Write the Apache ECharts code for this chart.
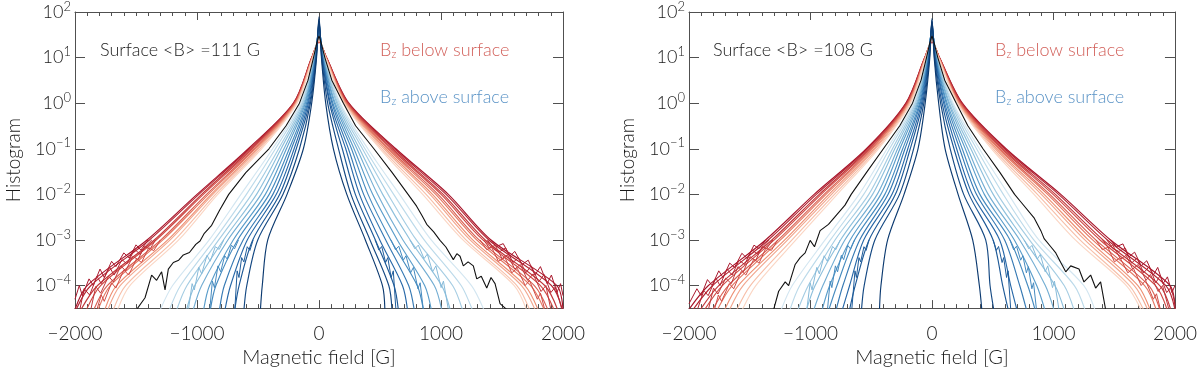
<!DOCTYPE html>
<html>
<head>
<meta charset="utf-8">
<title>Bz histograms</title>
<script src="https://cdn.jsdelivr.net/npm/echarts@6/dist/echarts.min.js"></script>
<style>
  html, body { margin: 0; padding: 0; background: #fff; }
  #chart { width: 1200px; height: 373px; }
</style>
</head>
<body>
<div id="chart"></div>
<script>
// histogram levels at which every curve's |B| crossing was read off the figure
// (the last one is where the curve leaves through the bottom of the frame)
var LEVELS = [10, 1, 0.1, 0.01, 1e-3, 1e-4, 3e-5];
var Y_MIN = 3.2e-5, Y_MAX = 100;

// ---------- left panel, surface <B> = 111 G ----------
// red = below surface (dark = deepest), |B| at LEVELS on the negative / positive side
var A_RED_PEAK = [22, 22, 22, 23, 23, 23, 24, 24, 24, 25];
var A_RED_NEG = [
  [60, 210, 580, 1000, 1410, 1900, 2000],
  [59, 207, 570, 985, 1390, 1870, 1990],
  [58, 204, 558, 962, 1350, 1815, 1950],
  [57, 200, 546, 948, 1335, 1790, 1905],
  [56, 197, 532, 922, 1296, 1735, 1845],
  [55, 193, 523, 906, 1280, 1710, 1810],
  [54, 190, 509, 884, 1240, 1660, 1755],
  [53, 187, 498, 870, 1220, 1630, 1730],
  [51, 183, 483, 848, 1182, 1585, 1685],
  [50, 180, 470, 830, 1150, 1550, 1650]
];
var A_RED_POS = [
  [62, 245, 630, 1060, 1410, 1950, 2000],
  [61, 241, 618, 1042, 1392, 1905, 1995],
  [60, 236, 603, 1018, 1362, 1850, 1955],
  [59, 232, 591, 1001, 1343, 1815, 1925],
  [58, 227, 575, 976, 1312, 1765, 1875],
  [57, 222, 563, 957, 1292, 1735, 1845],
  [56, 218, 546, 930, 1260, 1688, 1795],
  [55, 214, 532, 910, 1238, 1660, 1770],
  [53, 209, 514, 878, 1205, 1622, 1725],
  [52, 205, 500, 850, 1180, 1600, 1700]
];
// blue = above surface (light = just above, dark = highest)
var A_BLUE_PEAK = [30, 32, 34, 36, 39, 42, 46, 50, 55, 61, 68, 78];
var A_BLUE_NEG = [
  [42, 150, 380, 640, 900, 1200, 1300],
  [40, 141, 357, 595, 858, 1135, 1225],
  [38, 134, 331, 552, 822, 1082, 1165],
  [36, 125, 311, 512, 783, 1018, 1085],
  [34, 118, 287, 475, 747, 962, 1030],
  [32, 111, 267, 440, 703, 897, 945],
  [30, 102, 244, 408, 667, 845, 890],
  [28, 94, 226, 378, 622, 776, 815],
  [26, 87, 204, 350, 588, 725, 770],
  [24, 78, 186, 322, 543, 655, 690],
  [22, 70, 160, 295, 502, 592, 615],
  [20, 60, 128, 262, 420, 465, 480]
];
var A_BLUE_POS = [
  [44, 175, 400, 660, 920, 1250, 1350],
  [42, 166, 377, 612, 862, 1165, 1255],
  [40, 155, 356, 566, 798, 1095, 1175],
  [38, 146, 332, 522, 747, 1005, 1075],
  [36, 134, 311, 480, 688, 945, 1005],
  [34, 126, 287, 440, 642, 866, 920],
  [31, 114, 266, 402, 588, 805, 855],
  [29, 106, 241, 366, 547, 735, 780],
  [27, 94, 219, 332, 498, 684, 725],
  [25, 86, 191, 298, 462, 615, 650],
  [22, 71, 160, 262, 418, 572, 598],
  [20, 55, 118, 228, 380, 520, 540]
];
// noisy low-count tails of a few more layers, [B, H]
var A_RED_TAILS = [
  [[-1400, 1e-3], [-1460, 6e-4], [-1500, 7.8e-4], [-1555, 4e-4], [-1600, 5.2e-4], [-1665, 2.6e-4], [-1700, 3.4e-4], [-1760, 1.5e-4], [-1795, 2.3e-4], [-1850, 1e-4], [-1885, 1.4e-4], [-1940, 6e-5], [-1965, 1e-4], [-2000, 5e-5]],
  [[-1370, 1e-3], [-1425, 7.2e-4], [-1465, 4.8e-4], [-1510, 6.2e-4], [-1575, 3e-4], [-1615, 3.7e-4], [-1680, 1.7e-4], [-1715, 2.5e-4], [-1785, 1.1e-4], [-1820, 1.6e-4], [-1880, 6.2e-5], [-1925, 8.5e-5], [-1960, 3e-5]],
  [[-1340, 1e-3], [-1385, 6.3e-4], [-1430, 7.2e-4], [-1485, 3.7e-4], [-1525, 4.4e-4], [-1585, 2.1e-4], [-1625, 2.7e-4], [-1685, 1.2e-4], [-1725, 1.6e-4], [-1790, 6.8e-5], [-1830, 9.5e-5], [-1870, 3e-5]],
  [[-1300, 1e-3], [-1355, 5.8e-4], [-1395, 6.8e-4], [-1455, 3.2e-4], [-1495, 3.9e-4], [-1560, 1.7e-4], [-1600, 2.2e-4], [-1665, 8.8e-5], [-1700, 1.15e-4], [-1760, 4.5e-5], [-1785, 6.2e-5], [-1820, 3e-5]],
  [[1410, 1e-3], [1455, 7.2e-4], [1510, 8.3e-4], [1565, 4.4e-4], [1605, 5.6e-4], [1665, 2.9e-4], [1715, 3.6e-4], [1770, 1.7e-4], [1815, 2.6e-4], [1870, 1.1e-4], [1905, 1.7e-4], [1950, 7e-5], [1980, 1.1e-4], [2000, 6e-5]],
  [[1380, 1e-3], [1435, 6.4e-4], [1475, 5.4e-4], [1530, 6.7e-4], [1590, 3.2e-4], [1635, 4.1e-4], [1695, 1.9e-4], [1740, 2.7e-4], [1800, 1.2e-4], [1845, 1.75e-4], [1900, 7e-5], [1940, 9.5e-5], [1990, 3e-5]],
  [[1350, 1e-3], [1395, 6.7e-4], [1445, 7.6e-4], [1500, 3.9e-4], [1545, 4.7e-4], [1605, 2.3e-4], [1650, 2.9e-4], [1710, 1.3e-4], [1755, 1.8e-4], [1820, 7.4e-5], [1860, 1e-4], [1900, 3e-5]],
  [[1320, 1e-3], [1375, 6.1e-4], [1415, 6.9e-4], [1470, 3.4e-4], [1525, 4.1e-4], [1580, 1.9e-4], [1625, 2.4e-4], [1690, 1e-4], [1725, 1.3e-4], [1790, 5e-5], [1815, 6.8e-5], [1850, 3e-5]]
];
var A_BLUE_TAILS = [
  [[-780, 1e-3], [-818, 6.2e-4], [-850, 7.1e-4], [-892, 3.4e-4], [-918, 4.6e-4], [-962, 1.8e-4], [-985, 2.5e-4], [-1022, 8e-5], [-1040, 1.1e-4], [-1070, 3e-5]],
  [[-660, 1e-3], [-692, 6.4e-4], [-718, 7.7e-4], [-752, 3.8e-4], [-773, 4.5e-4], [-806, 2e-4], [-828, 2.7e-4], [-857, 9e-5], [-874, 1.25e-4], [-895, 3e-5]],
  [[-540, 1e-3], [-566, 5.9e-4], [-588, 7.1e-4], [-616, 3.3e-4], [-634, 4.1e-4], [-656, 1.5e-4], [-671, 2.1e-4], [-690, 3e-5]],
  [[745, 1e-3], [786, 6.4e-4], [814, 7.7e-4], [861, 3.9e-4], [888, 4.9e-4], [931, 2e-4], [958, 2.7e-4], [1001, 9e-5], [1020, 1.25e-4], [1060, 3e-5]],
  [[590, 1e-3], [627, 6.1e-4], [654, 7.3e-4], [691, 3.6e-4], [713, 4.5e-4], [751, 1.9e-4], [774, 2.5e-4], [811, 8.5e-5], [829, 1.15e-4], [855, 3e-5]],
  [[460, 1e-3], [491, 6e-4], [514, 7.2e-4], [546, 3.2e-4], [564, 4.1e-4], [591, 1.5e-4], [609, 2.1e-4], [630, 3e-5]]
];
// surface histogram, [B, H]
var A_BLACK = [
  [-1494, 3e-5], [-1426, 5.4e-5], [-1372, 1.7e-4], [-1331, 1.3e-4], [-1290, 2.0e-4],
  [-1262, 8e-5], [-1235, 2.3e-4], [-1194, 3.2e-4], [-1150, 3.6e-4], [-1112, 4.7e-4],
  [-1062, 5.3e-4], [-1010, 8e-4], [-975, 9.5e-4], [-940, 1.4e-3], [-880, 2.1e-3],
  [-815, 4.5e-3], [-740, 0.01], [-600, 0.03], [-410, 0.1], [-270, 0.32], [-160, 1],
  [-90, 3.2], [-45, 10], [-20, 20], [0, 30],
  [20, 20], [48, 10], [105, 3.2], [200, 1], [300, 0.32], [450, 0.1], [600, 0.03], [730, 0.01],
  [800, 5.5e-3], [845, 3.4e-3], [883, 2.2e-3], [940, 1.5e-3], [992, 9.8e-4], [1040, 7e-4],
  [1101, 3.7e-4], [1130, 5e-4], [1156, 4.4e-4], [1183, 2.7e-4], [1222, 3.3e-4],
  [1265, 2.7e-4], [1293, 1.4e-4], [1330, 1.6e-4], [1375, 8.8e-5], [1410, 1.5e-4],
  [1443, 1.1e-4], [1484, 4e-5], [1538, 3e-5]
];

// ---------- right panel, surface <B> = 108 G ----------
var B_RED_PEAK = [22, 22, 22, 23, 23, 23, 24, 24, 24, 25];
var B_RED_NEG = [
  [60, 215, 540, 970, 1370, 1840, 2000],
  [59, 212, 531, 952, 1348, 1805, 1965],
  [58, 207, 519, 928, 1318, 1755, 1905],
  [57, 204, 511, 912, 1298, 1725, 1870],
  [56, 199, 499, 888, 1266, 1676, 1805],
  [55, 195, 491, 872, 1247, 1645, 1765],
  [54, 190, 477, 848, 1212, 1595, 1705],
  [53, 187, 467, 827, 1188, 1555, 1665],
  [51, 181, 452, 803, 1152, 1495, 1605],
  [50, 175, 440, 780, 1120, 1450, 1560]
];
var B_RED_POS = [
  [62, 250, 610, 1060, 1470, 1960, 2000],
  [61, 246, 599, 1042, 1444, 1925, 2000],
  [60, 240, 585, 1016, 1408, 1875, 1965],
  [59, 236, 574, 997, 1383, 1840, 1935],
  [58, 230, 559, 970, 1348, 1785, 1875],
  [57, 226, 548, 952, 1322, 1750, 1845],
  [56, 221, 532, 923, 1287, 1695, 1795],
  [55, 216, 520, 900, 1258, 1665, 1775],
  [53, 213, 504, 868, 1218, 1625, 1740],
  [52, 210, 490, 840, 1180, 1600, 1720]
];
var B_BLUE_PEAK = [30, 32, 34, 36, 39, 42, 45, 49, 54, 59, 65, 72];
var B_BLUE_NEG = [
  [42, 150, 370, 600, 880, 1150, 1240],
  [40, 142, 349, 562, 836, 1088, 1168],
  [38, 135, 325, 520, 798, 1018, 1102],
  [36, 126, 306, 489, 753, 962, 1032],
  [34, 119, 283, 451, 717, 898, 972],
  [32, 111, 264, 421, 673, 842, 903],
  [30, 102, 241, 388, 637, 782, 848],
  [28, 95, 222, 361, 595, 733, 788],
  [26, 86, 199, 329, 562, 678, 737],
  [24, 77, 179, 301, 518, 632, 678],
  [21, 67, 151, 267, 470, 558, 580],
  [18, 56, 115, 230, 365, 420, 432]
];
var B_BLUE_POS = [
  [44, 175, 390, 630, 880, 1250, 1340],
  [42, 165, 367, 587, 838, 1172, 1258],
  [40, 157, 341, 540, 802, 1088, 1168],
  [38, 145, 320, 504, 758, 1012, 1087],
  [36, 137, 295, 463, 722, 933, 1003],
  [34, 125, 274, 431, 678, 862, 928],
  [31, 117, 249, 394, 642, 788, 848],
  [29, 105, 228, 366, 598, 722, 777],
  [27, 96, 203, 332, 557, 648, 698],
  [24, 83, 181, 305, 503, 582, 627],
  [21, 71, 150, 261, 442, 478, 508],
  [18, 55, 108, 215, 335, 390, 410]
];
var B_RED_TAILS = [
  [[-1370, 1e-3], [-1425, 6.4e-4], [-1465, 7.7e-4], [-1520, 3.9e-4], [-1565, 5.1e-4], [-1625, 2.5e-4], [-1665, 3.1e-4], [-1720, 1.5e-4], [-1755, 2.1e-4], [-1810, 1e-4], [-1848, 1.35e-4], [-1900, 6e-5], [-1935, 8.5e-5], [-2000, 4e-5]],
  [[-1340, 1e-3], [-1392, 7.1e-4], [-1438, 4.9e-4], [-1482, 6.1e-4], [-1542, 2.9e-4], [-1588, 3.6e-4], [-1645, 1.7e-4], [-1688, 2.3e-4], [-1745, 1e-4], [-1778, 1.45e-4], [-1842, 6e-5], [-1878, 7.8e-5], [-1930, 3e-5]],
  [[-1310, 1e-3], [-1362, 6.4e-4], [-1398, 7.2e-4], [-1452, 3.5e-4], [-1498, 4.3e-4], [-1553, 2e-4], [-1597, 2.6e-4], [-1652, 1.1e-4], [-1698, 1.45e-4], [-1762, 6.5e-5], [-1798, 8.8e-5], [-1840, 3e-5]],
  [[-1270, 1e-3], [-1322, 5.9e-4], [-1368, 6.6e-4], [-1423, 3.1e-4], [-1466, 3.8e-4], [-1532, 1.7e-4], [-1568, 2.1e-4], [-1632, 8.5e-5], [-1668, 1.1e-4], [-1732, 4.5e-5], [-1758, 6.2e-5], [-1790, 3e-5]],
  [[1470, 1e-3], [1518, 7.1e-4], [1572, 8.2e-4], [1618, 4.2e-4], [1668, 5.4e-4], [1722, 2.7e-4], [1768, 3.5e-4], [1822, 1.7e-4], [1858, 2.5e-4], [1902, 1.1e-4], [1938, 1.55e-4], [1975, 7e-5], [2000, 1e-4]],
  [[1440, 1e-3], [1492, 6.4e-4], [1538, 5.6e-4], [1592, 6.6e-4], [1642, 3.1e-4], [1688, 4e-4], [1742, 1.9e-4], [1788, 2.6e-4], [1842, 1.15e-4], [1878, 1.65e-4], [1932, 7e-5], [1968, 9.2e-5], [2000, 4e-5]],
  [[1405, 1e-3], [1452, 6.7e-4], [1488, 7.7e-4], [1552, 3.8e-4], [1598, 4.6e-4], [1652, 2.3e-4], [1698, 2.9e-4], [1762, 1.3e-4], [1798, 1.75e-4], [1862, 7.4e-5], [1898, 1e-4], [1950, 3e-5]],
  [[1350, 1e-3], [1402, 6.1e-4], [1448, 6.9e-4], [1502, 3.3e-4], [1548, 4.1e-4], [1612, 1.9e-4], [1658, 2.4e-4], [1722, 1e-4], [1758, 1.3e-4], [1822, 5e-5], [1848, 6.6e-5], [1880, 3e-5]]
];
var B_BLUE_TAILS = [
  [[-755, 1e-3], [-792, 6.1e-4], [-818, 7.2e-4], [-862, 3.4e-4], [-888, 4.5e-4], [-927, 1.8e-4], [-948, 2.5e-4], [-987, 8e-5], [-1003, 1.15e-4], [-1030, 3e-5]],
  [[-637, 1e-3], [-670, 6.3e-4], [-693, 7.6e-4], [-727, 3.7e-4], [-746, 4.6e-4], [-777, 2e-4], [-795, 2.7e-4], [-824, 9e-5], [-838, 1.25e-4], [-860, 3e-5]],
  [[-518, 1e-3], [-542, 5.9e-4], [-560, 7.1e-4], [-587, 3.3e-4], [-601, 4.1e-4], [-622, 1.5e-4], [-634, 2.1e-4], [-660, 3e-5]],
  [[758, 1e-3], [797, 6.4e-4], [823, 7.6e-4], [867, 3.8e-4], [891, 4.8e-4], [932, 2e-4], [953, 2.7e-4], [992, 9e-5], [1008, 1.25e-4], [1045, 3e-5]],
  [[642, 1e-3], [672, 6.1e-4], [696, 7.3e-4], [730, 3.6e-4], [748, 4.5e-4], [777, 1.9e-4], [793, 2.6e-4], [822, 8.5e-5], [836, 1.15e-4], [860, 3e-5]],
  [[503, 1e-3], [530, 5.9e-4], [548, 7.2e-4], [577, 3.2e-4], [590, 4.1e-4], [614, 1.5e-4], [626, 2.1e-4], [648, 3e-5]]
];
var B_BLACK = [
  [-1303, 3e-5], [-1262, 7.5e-5], [-1208, 1.2e-4], [-1180, 1.0e-4], [-1126, 2.9e-4],
  [-1085, 4.1e-4], [-1044, 5.2e-4], [-1003, 9.8e-4], [-967, 7.1e-4], [-921, 1.6e-3],
  [-852, 2.2e-3], [-716, 5.8e-3], [-665, 0.01], [-540, 0.03], [-400, 0.1], [-265, 0.32],
  [-160, 1], [-90, 3.2], [-45, 10], [-20, 20], [0, 30],
  [20, 20], [48, 10], [105, 3.2], [200, 1], [295, 0.32], [420, 0.1], [560, 0.03], [680, 0.01],
  [732, 6.8e-3], [842, 3.0e-3], [896, 1.6e-3], [923, 1.07e-3], [978, 7.1e-4], [1019, 5.2e-4],
  [1060, 3.2e-4], [1101, 2e-4], [1142, 2.7e-4], [1210, 2.3e-4], [1251, 1.2e-4],
  [1306, 1.7e-4], [1347, 8.8e-5], [1388, 1.2e-4], [1429, 3e-5]
];

var AXIS_COLOR = '#505050';
var TEXT_COLOR = '#1a1a1a';
var FONT = 'Lato, "Liberation Sans", sans-serif';
var FONT_WEIGHT = 300;
var RED_STOPS = ['#a7142a', '#cf4a45', '#ee9074', '#fbd6c4'];
var BLUE_STOPS = ['#d3e6f1', '#94c4de', '#4d94c5', '#2464a5', '#0c3a70'];
var RED_TAIL_SHADE = [0.02, 0.12, 0.22, 0.34];
var BLUE_TAIL_SHADE = [0.3, 0.55, 0.8];
var LINE_W = 1.15;

function hexToRgb(h) {
  return [parseInt(h.substr(1, 2), 16), parseInt(h.substr(3, 2), 16), parseInt(h.substr(5, 2), 16)];
}
function ramp(stops, t) {
  var p = t * (stops.length - 1);
  var i = Math.min(Math.floor(p), stops.length - 2);
  var f = p - i;
  var a = hexToRgb(stops[i]), b = hexToRgb(stops[i + 1]);
  var c = a.map(function (v, k) { return Math.round(v + (b[k] - v) * f); });
  return 'rgb(' + c.join(',') + ')';
}

// turn crossing tables into [B, H] points
function curve(neg, pos, peak) {
  var pts = [];
  for (var i = LEVELS.length - 1; i >= 0; i--) pts.push([-neg[i], LEVELS[i]]);
  pts.push([0, peak]);
  for (var j = 0; j < LEVELS.length; j++) pts.push([pos[j], LEVELS[j]]);
  return pts;
}

function lineSeries(data, color, gi, z, smooth, width) {
  return {
    type: 'line', data: data, xAxisIndex: gi * 2, yAxisIndex: gi * 2,
    showSymbol: false, symbol: 'none', silent: true, animation: false,
    smooth: smooth,
    lineStyle: { width: width, color: color }, z: z,
    emphasis: { disabled: true }
  };
}

function panelSeries(gi, redNeg, redPos, redPeak, blueNeg, bluePos, bluePeak, redTails, blueTails, black) {
  var s = [];
  redNeg.forEach(function (n, k) {
    s.push(lineSeries(curve(n, redPos[k], redPeak[k]), ramp(RED_STOPS, k / (redNeg.length - 1)), gi, 2, 0.3, LINE_W));
  });
  redTails.forEach(function (t, k) {
    s.push(lineSeries(t, ramp(RED_STOPS, RED_TAIL_SHADE[k % 4]), gi, 2, false, 1));
  });
  blueNeg.forEach(function (n, k) {
    s.push(lineSeries(curve(n, bluePos[k], bluePeak[k]), ramp(BLUE_STOPS, k / (blueNeg.length - 1)), gi, 3, 0.3, LINE_W));
  });
  blueTails.forEach(function (t, k) {
    s.push(lineSeries(t, ramp(BLUE_STOPS, BLUE_TAIL_SHADE[k % 3]), gi, 3, false, 1));
  });
  s.push(lineSeries(black, '#111', gi, 4, false, 1.1));
  return s;
}

function xFmt(v) { return v < 0 ? '\u2212' + (-v) : String(v); }
function yFmt(v) {
  var l = Math.log10(v), e = Math.round(l);
  if (Math.abs(l - e) > 1e-6) return '';
  return '{b|10}{sup|' + (e < 0 ? '\u2212' + (-e) : e) + '}';
}

function xAxes(gi) {
  var base = {
    type: 'value', gridIndex: gi, min: -2000, max: 2000, interval: 1000,
    axisLine: { show: true, onZero: false, lineStyle: { color: AXIS_COLOR, width: 1 } },
    axisTick: { show: true, inside: true, length: 8, lineStyle: { color: AXIS_COLOR } },
    minorTick: { show: true, splitNumber: 10, length: 4, lineStyle: { color: AXIS_COLOR } },
    splitLine: { show: false }, minorSplitLine: { show: false }
  };
  return [
    Object.assign({}, base, {
      position: 'bottom',
      axisLabel: { formatter: xFmt, color: TEXT_COLOR, fontSize: 19, fontFamily: FONT, fontWeight: FONT_WEIGHT, margin: 16 },
      name: 'Magnetic field [G]', nameLocation: 'middle', nameGap: 31,
      nameTextStyle: { color: TEXT_COLOR, fontSize: 20, fontFamily: FONT, fontWeight: FONT_WEIGHT }
    }),
    Object.assign({}, base, { position: 'top', axisLabel: { show: false } })
  ];
}

function yAxes(gi) {
  var base = {
    type: 'log', logBase: 10, gridIndex: gi, min: Y_MIN, max: Y_MAX,
    axisLine: { show: true, onZero: false, lineStyle: { color: AXIS_COLOR, width: 1 } },
    axisTick: { show: true, inside: true, length: 10, lineStyle: { color: AXIS_COLOR } },
    minorTick: { show: false }, splitLine: { show: false }
  };
  return [
    Object.assign({}, base, {
      position: 'left',
      axisLabel: {
        formatter: yFmt, margin: 4, color: TEXT_COLOR, fontFamily: FONT,
        rich: {
          b: { fontSize: 18, fontFamily: FONT, fontWeight: FONT_WEIGHT, color: TEXT_COLOR },
          sup: { fontSize: 13, fontFamily: FONT, fontWeight: FONT_WEIGHT, color: TEXT_COLOR, padding: [0, 0, 11, 0] }
        }
      },
      name: 'Histogram', nameLocation: 'middle', nameGap: 52, nameRotate: 90,
      nameTextStyle: { color: TEXT_COLOR, fontSize: 19, fontFamily: FONT, fontWeight: FONT_WEIGHT }
    }),
    Object.assign({}, base, { position: 'right', axisLabel: { show: false } })
  ];
}

function label(x, y, text, color) {
  return {
    type: 'text', left: x, top: y, silent: true,
    style: {
      text: text, fill: color, fontSize: 18, fontFamily: FONT, fontWeight: FONT_WEIGHT,
      rich: { s: { fontSize: 11, fontFamily: FONT, fontWeight: FONT_WEIGHT, fill: color, padding: [9, 0, 0, 0] } }
    }
  };
}

var chart = echarts.init(document.getElementById('chart'), null, { renderer: 'canvas' });
chart.setOption({
  backgroundColor: '#fff',
  animation: false,
  grid: [
    { left: 75, top: 7, width: 488, height: 311 },
    { left: 689, top: 7, width: 488, height: 311 }
  ],
  xAxis: xAxes(0).concat(xAxes(1)),
  yAxis: yAxes(0).concat(yAxes(1)),
  series: panelSeries(0, A_RED_NEG, A_RED_POS, A_RED_PEAK, A_BLUE_NEG, A_BLUE_POS, A_BLUE_PEAK, A_RED_TAILS, A_BLUE_TAILS, A_BLACK)
    .concat(panelSeries(1, B_RED_NEG, B_RED_POS, B_RED_PEAK, B_BLUE_NEG, B_BLUE_POS, B_BLUE_PEAK, B_RED_TAILS, B_BLUE_TAILS, B_BLACK)),
  graphic: [
    label(100, 41, 'Surface <B> =111 G', TEXT_COLOR),
    label(380, 41, 'B{s|z} below surface', '#d2605a'),
    label(380, 88, 'B{s|z} above surface', '#5a93c6'),
    label(713, 41, 'Surface <B> =108 G', TEXT_COLOR),
    label(995, 41, 'B{s|z} below surface', '#d2605a'),
    label(995, 88, 'B{s|z} above surface', '#5a93c6')
  ]
});
</script>
</body>
</html>
